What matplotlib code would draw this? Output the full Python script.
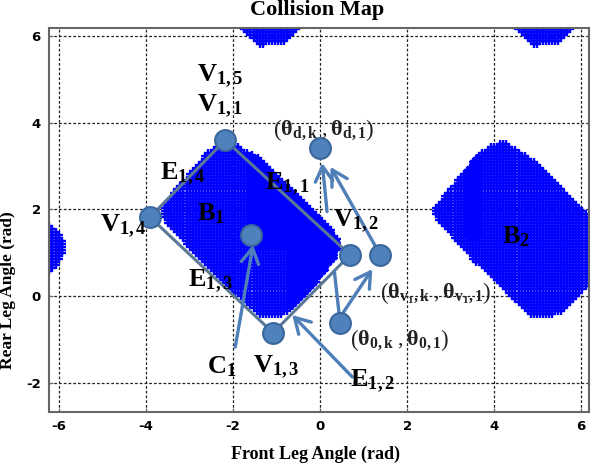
import numpy as np
import matplotlib.pyplot as plt
from matplotlib.path import Path

plt.rcParams['mathtext.fontset'] = 'custom'
plt.rcParams['mathtext.rm'] = 'Liberation Serif'
plt.rcParams['mathtext.it'] = 'Liberation Serif:italic'
plt.rcParams['mathtext.bf'] = 'Liberation Serif:bold'

# obstacle B1 border (rad); B2 and the edge blobs are its 2*pi copies
b1_x = [-3.63, -3.06, -2.60, -2.30, -2.00, -1.31, -0.30, 0.23, 0.41, 0.30, -0.30, -0.76, -1.38, -1.77, -2.76, -3.61]
b1_y = [2.06, 2.75, 3.30, 3.49, 3.53, 3.07, 2.06, 1.52, 1.18, 0.83, 0.07, -0.39, -0.48, -0.09, 0.83, 1.82]

# parts of the map where the samples are packed solid (x0, x1, y0, y1)
dense_boxes = [(-1.6, 0.6, 1.1, 3.7), (-0.75, 0.6, -0.6, 1.1), (3.33, 3.63, 1.3, 3.7)]

# vertices of the polygon around B1
vert_names = ['V1,1', 'V1,2', 'V1,3', 'V1,4']
vert_x = [-2.18, 0.69, -1.08, -3.91]
vert_y = [3.60, 0.95, -0.85, 1.82]

# other points: centre C1, goal, via point, start
pt_x = [-1.58, 0.00, 1.38, 0.46]
pt_y = [1.41, 3.42, 0.95, -0.62]

# arrows: (tail x, tail y, head x, head y)
arrows = [
    (-1.95, -1.18, -1.54, 1.18),   # C1
    (0.74, -1.87, -0.64, -0.44),   # E1,2
    (0.52, -0.40, 1.20, 0.62),     # start -> via
    (1.30, 1.10, 0.24, 2.98),      # via -> goal
    (0.16, 1.95, 0.05, 3.07),      # straight path, top part
]
stub = ([0.46, 0.33], [-0.62, 0.55])  # straight path, lower part

# labels: text, x, y (left, baseline)
labels = [
    (r'$\mathbf{V_{1,5}}$', -2.83, 4.94),
    (r'$\mathbf{V_{1,1}}$', -2.83, 4.25),
    (r'$\mathbf{E_{1,4}}$', -3.68, 2.68),
    (r'$\mathbf{E_{1,1}}$', -1.26, 2.45),
    (r'$\mathbf{B_{1}}$', -2.83, 1.75),
    (r'$\mathbf{V_{1,4}}$', -5.06, 1.48),
    (r'$\mathbf{V_{1,2}}$', 0.30, 1.60),
    (r'$\mathbf{E_{1,3}}$', -3.03, 0.21),
    (r'$\mathbf{C_{1}}$', -2.60, -1.78),
    (r'$\mathbf{V_{1,3}}$', -1.54, -1.76),
    (r'$\mathbf{E_{1,2}}$', 0.69, -2.10),
    (r'$\mathbf{B_{2}}$', 4.18, 1.22),
]
theta_labels = [
    (r'$\left(\mathbf{θ_{d,k}}\ ,\mathbf{θ_{d,1}}\right)$', -1.08, 3.83),
    (r'$\left(\mathbf{θ_{v_1,k}}\ ,\mathbf{θ_{v_1,1}}\right)$', 1.38, 0.07),
    (r'$\left(\mathbf{θ_{0,k}}\ ,\mathbf{θ_{0,1}}\right)$', 0.69, -1.02),
]

xticks = [-6, -4, -2, 0, 2, 4, 6]
yticks = [-2, 0, 2, 4, 6]

fig = plt.figure(figsize=(5.94, 4.66), dpi=100)
ax = fig.add_axes([49 / 594, 54 / 466, 540 / 594, 384 / 466])
ax.set_xlim(-6.23, 6.18)
ax.set_ylim(-2.68, 6.19)

# sample grid of the collision map
step = 0.07
gx, gy = np.meshgrid(np.arange(-6.5, 6.5, step), np.arange(-3.0, 6.5, step))
pts = np.column_stack([gx.ravel(), gy.ravel()])
poly = np.column_stack([b1_x, b1_y])
inside = np.zeros(len(pts), bool)
for sx in (-2 * np.pi, 0, 2 * np.pi):
    for sy in (-2 * np.pi, 0, 2 * np.pi):
        inside |= Path(poly + [sx, sy]).contains_points(pts)
hit = pts[inside]
ax.scatter(hit[:, 0], hit[:, 1], marker='+', s=30, linewidths=1.7, color='#0000ff', zorder=2)

dense = np.zeros(len(hit), bool)
for x0, x1, y0, y1 in dense_boxes:
    dense |= (hit[:, 0] > x0) & (hit[:, 0] < x1) & (hit[:, 1] > y0) & (hit[:, 1] < y1)
dh = hit[dense] + step / 2
ax.scatter(dh[:, 0], dh[:, 1], marker='+', s=30, linewidths=1.7, color='#0000ff', zorder=2)

# polygon around B1
ax.plot(vert_x + vert_x[:1], vert_y + vert_y[:1], color='#5b7897', lw=2.2, zorder=3)

for x0, y0, x1, y1 in arrows:
    ax.annotate('', xy=(x1, y1), xytext=(x0, y0),
                arrowprops=dict(arrowstyle='->,head_length=0.6,head_width=0.35', lw=2.4,
                                color='#4f7fb8', shrinkA=0, shrinkB=0, mutation_scale=18),
                zorder=4)
ax.plot(stub[0], stub[1], color='#4f7fb8', lw=2.4, zorder=4)

ax.plot(vert_x + pt_x, vert_y + pt_y, 'o', ms=15, mfc='#4f81bd', mec='#3a679c', mew=1.5, zorder=5)

for txt, x, y in labels:
    ax.text(x, y, txt, fontsize=19, ha='left', va='baseline', zorder=6)
for txt, x, y in theta_labels:
    ax.text(x, y, txt, fontsize=16, ha='left', va='center', color='#222222', zorder=6)

ax.set_xticks(xticks)
ax.set_yticks(yticks)
ax.set_xticklabels([str(t) for t in xticks], fontweight='bold', fontsize=9.5)
ax.set_yticklabels([str(t) for t in yticks], fontweight='bold', fontsize=9.5)
ax.tick_params(length=3, direction='in', color='#666666', pad=6)
ax.grid(True, color='#222222', lw=0.9, linestyle=(0, (2.2, 1.6)))
ax.set_axisbelow(True)
for sp in ax.spines.values():
    sp.set_color('#666666')
    sp.set_linewidth(1.5)

ax.set_xlabel('Front Leg Angle (rad)', family='Liberation Serif', fontweight='bold', fontsize=13)
ax.xaxis.set_label_coords(0.494, -0.088)
ax.set_ylabel('Rear Leg Angle (rad)', family='Liberation Serif', fontweight='bold', fontsize=12.5)
ax.yaxis.set_label_coords(-0.062, 0.318)
fig.text(317 / 594, 1 - 15 / 466, 'Collision Map', family='Liberation Serif', fontweight='bold',
         fontsize=16, ha='center', va='baseline')

fig.savefig('out.png', dpi=100)
